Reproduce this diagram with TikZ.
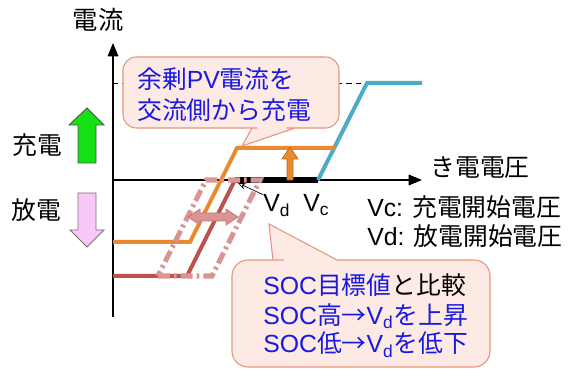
\documentclass[tikz,border=0pt]{standalone}
\usepackage{fontspec}
\setmainfont{Liberation Sans}
\newfontfamily\jp{Noto Sans CJK JP}
\usetikzlibrary{arrows.meta}
\definecolor{lorange}{RGB}{233,138,46}
\definecolor{dorange}{RGB}{190,105,30}
\definecolor{lblue}{RGB}{75,172,198}
\definecolor{lred}{RGB}{192,80,77}
\definecolor{lpink}{RGB}{217,149,148}
\definecolor{cfill}{RGB}{253,234,228}
\definecolor{cedge}{RGB}{228,150,125}
\definecolor{tblue}{RGB}{25,25,225}
\definecolor{agreen}{RGB}{20,225,20}
\definecolor{apink}{RGB}{248,200,248}
\tikzset{
  axisline/.style={line width=0.9pt,-{Triangle[length=10pt,width=8pt]}},
  curve/.style={line width=3pt},
  callout/.style={draw=cedge,fill=cfill,line width=0.8pt},
  lbl/.style={inner sep=0pt},
  blocka/.style={line width=0.6pt},
}
\begin{document}
\begin{tikzpicture}[x=0.75pt,y=-0.75pt,font=\fontsize{18.6}{21}\selectfont]
\useasboundingbox (0,0) rectangle (578,377);
% axis labels
\node[lbl,font=\fontsize{19}{21}\selectfont] (ylab) at (98,20) {\jp 電流};
\node[lbl] (xlab) at (480,168) {\jp き電電圧};
% axes
\coordinate (ybot) at (113,317);
\coordinate (ytop) at (113,43);
\coordinate (orig) at (113,180);
\coordinate (xtip) at (422,180);
\draw[axisline] (ybot) -- (ytop);
\draw[axisline] (orig) -- (xtip);
% charge/discharge labels and arrows
\node[lbl] (chg) at (37,145) {\jp 充電};
\node[lbl] (dis) at (36,210) {\jp 放電};
\draw[blocka,draw=black!70,fill=agreen] (78,163) -- (78,125) -- (69,125) -- (87,108) -- (104,125) -- (96,125) -- (96,163) -- cycle;
\draw[blocka,draw=black!55,fill=apink] (78,193) -- (96,193) -- (96,230) -- (104,230) -- (87,247) -- (70,230) -- (78,230) -- cycle;
% dashed reference level
\coordinate (dl) at (113,83);
\coordinate (bt) at (367,83);
\draw[line width=0.7pt,dash pattern=on 4pt off 3pt] (dl) -- (bt);
% thick black segment
\coordinate (vdp) at (235,180);
\coordinate (vcp) at (318,180);
\draw[line width=4pt] (vdp) -- (vcp);
% curves
\coordinate (be) at (422,83);
\draw[curve,lblue] (vcp) -- (bt) -- (be);
\coordinate (o1) at (113,242);
\coordinate (o2) at (190,242);
\coordinate (o3) at (237,148);
\coordinate (o4) at (335,148);
\draw[curve,lorange] (o1) -- (o2) -- (o3) -- (o4);
\coordinate (r1) at (113,276);
\coordinate (r2) at (187,276);
\draw[curve,lred] (r1) -- (r2) -- (vdp);
% pink dashed band
\draw[lpink,line width=3.8pt,dash pattern=on 9pt off 3pt on 2pt off 3pt] (158,276) -- (212,276) -- (260,180) -- (206,180) -- cycle;
% double arrow
\draw[blocka,draw=lred!80,fill=lpink] (188,217) -- (200,209) -- (200,213) -- (226,213) -- (226,209) -- (238,217) -- (226,225) -- (226,221) -- (200,221) -- (200,225) -- cycle;
% orange up arrow
\draw[blocka,draw=dorange,fill=lorange] (287,180) -- (287,159) -- (282,159) -- (290,147) -- (298,159) -- (293,159) -- (293,180) -- cycle;
% Vd, Vc labels
\node[lbl,anchor=base west] (vd) at (263,212) {V\textsubscript{d}};
\node[lbl,anchor=base west] (vc) at (303,212) {V\textsubscript{c}};
\coordinate (vdt) at (238,183);
\draw[line width=0.5pt,-{Stealth[open,length=6pt,width=5pt]}] (vd.north west) -- (vdt);
% legend
\node[lbl,anchor=west] (leg1) at (367,207) {Vc: {\jp 充電開始電圧}};
\node[lbl,anchor=west] (leg2) at (367,236) {Vd: {\jp 放電開始電圧}};
% callout 1
\draw[callout] (230,57) [rounded corners=10pt] -- (339,57) -- (339,128) -- (300,128) [sharp corners] -- (295,128) -- (242,146) -- (252,128) -- (257,128) [rounded corners=10pt] -- (123,128) -- (123,57) -- cycle;
\node[lbl,anchor=west,text=tblue] (c1a) at (137,79) {{\jp 余剰}PV{\jp 電流を}};
\node[lbl,anchor=west,text=tblue] (c1b) at (137,110) {{\jp 交流側から充電}};
% callout 2
\draw[callout] (400,260) [rounded corners=12pt] -- (490,260) -- (490,367) -- (232,367) -- (232,260) -- (268,260) [sharp corners] -- (273,260) -- (269,224) -- (337,260) -- (342,260) [rounded corners=12pt] -- cycle;
\node[lbl,anchor=west,text=tblue] (c2a) at (263,285) {SOC{\jp 目標値}{\color{black}\jp と比較}};
\node[lbl,anchor=west,text=tblue] (c2b) at (263,316) {SOC{\jp 高→}V\textsubscript{d}{\jp を上昇}};
\node[lbl,anchor=west,text=tblue] (c2c) at (263,345) {SOC{\jp 低→}V\textsubscript{d}{\jp を低下}};
\end{tikzpicture}
\end{document}
